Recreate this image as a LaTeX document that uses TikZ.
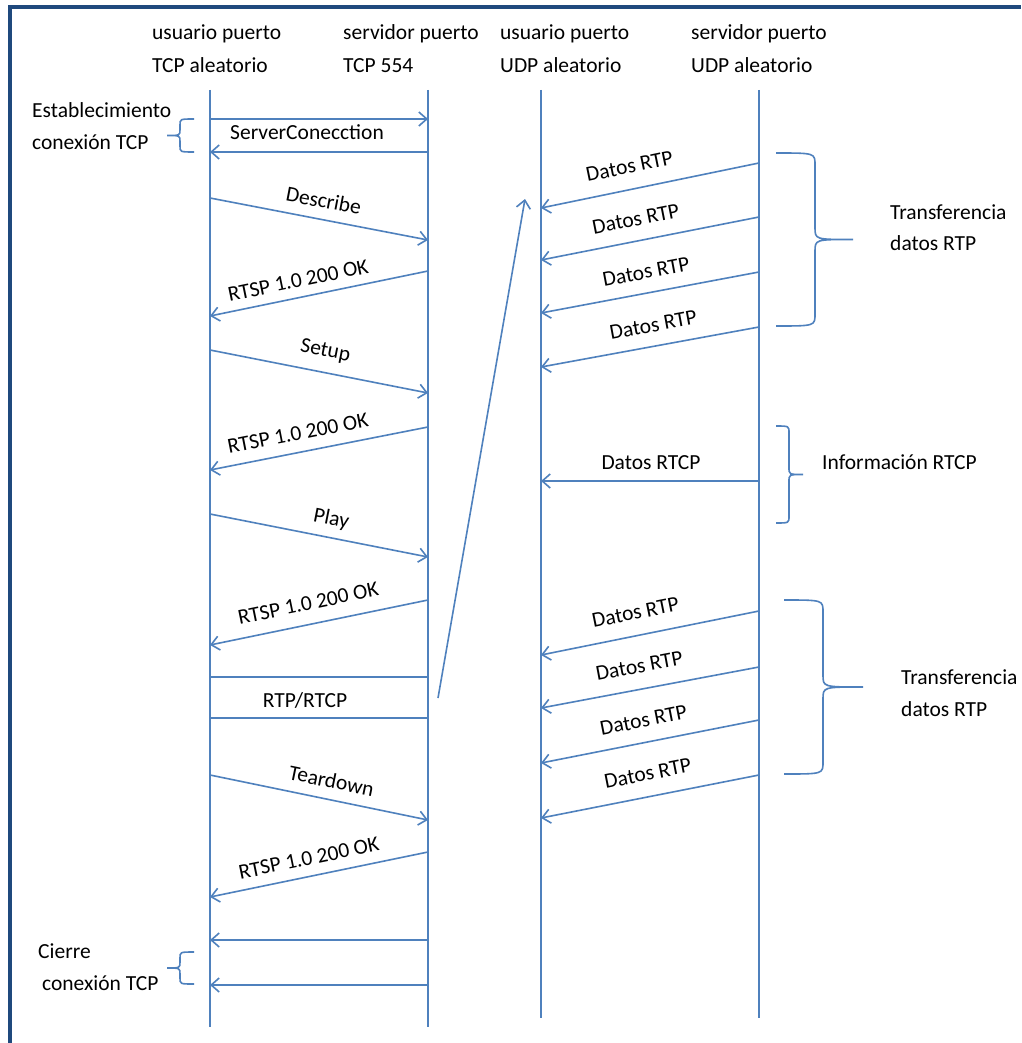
\documentclass[tikz,border=0pt]{standalone}
\usepackage{fontspec}
\setmainfont{Carlito}
\usetikzlibrary{arrows.meta}
\definecolor{lineblue}{RGB}{79,129,189}
\definecolor{frameblue}{RGB}{31,73,125}
\newcommand{\drawbrace}[6]{%
  \pgfmathsetmacro{\bym}{(#4+#5)/2}%
  \draw[bracestyle] (#1,#4) .. controls (#2,#4) .. (#2,#4+#6) -- (#2,\bym-#6)
    .. controls (#2,\bym) .. (#3,\bym) .. controls (#2,\bym) .. (#2,\bym+#6)
    -- (#2,#5-#6) .. controls (#2,#5) .. (#1,#5);
}
\begin{document}
\begin{tikzpicture}[x=1pt,y=-1pt,
  txt/.style={inner sep=0pt, font=\fontsize{21.5}{26}\selectfont, text=black},
  life/.style={draw=lineblue, line width=1.8pt},
  msgR/.style={draw=lineblue, line width=1.6pt, -{Straight Barb[length=8pt,width=14pt]}},
  msgL/.style={draw=lineblue, line width=1.6pt, {Straight Barb[length=8pt,width=14pt]}-},
  plain/.style={draw=lineblue, line width=1.6pt},
  mlab/.style={txt, sloped, anchor=center},
  bracestyle/.style={draw=lineblue, line width=1.6pt}
]
\useasboundingbox (0,0) rectangle (1021,1043);
\fill[white] (0,0) rectangle (1021,1043);
% frame
\coordinate (fa) at (10,1043);
\coordinate (fb) at (10,7);
\coordinate (fc) at (1021,7);
\draw[frameblue, line width=4pt] (fa) -- (fb) -- (fc);

% headers
\node[txt, anchor=base west] (h1a) at (152,40) {usuario puerto};
\node[txt, anchor=base west] (h1b) at (152,73) {TCP aleatorio};
\node[txt, anchor=base west] (h2a) at (343,40) {servidor puerto};
\node[txt, anchor=base west] (h2b) at (343,73) {TCP 554};
\node[txt, anchor=base west] (h3a) at (500,40) {usuario puerto};
\node[txt, anchor=base west] (h3b) at (500,73) {UDP aleatorio};
\node[txt, anchor=base west] (h4a) at (691,40) {servidor puerto};
\node[txt, anchor=base west] (h4b) at (691,73) {UDP aleatorio};

% lifelines
\coordinate (L1t) at (210,90);  \coordinate (L1b) at (210,1027);
\coordinate (L2t) at (428,90);  \coordinate (L2b) at (428,1027);
\coordinate (L3t) at (541,90);  \coordinate (L3b) at (541,1018);
\coordinate (L4t) at (759,90);  \coordinate (L4b) at (759,1018);
\draw[life] (L1t) -- (L1b);
\draw[life] (L2t) -- (L2b);
\draw[life] (L3t) -- (L3b);
\draw[life] (L4t) -- (L4b);

% TCP side messages
\path (210,119) coordinate (a1) (428,119) coordinate (b1)
      (210,152) coordinate (a2) (428,152) coordinate (b2)
      (210,198) coordinate (a3) (428,240) coordinate (b3)
      (210,316) coordinate (a4) (428,271) coordinate (b4)
      (210,350) coordinate (a5) (428,393) coordinate (b5)
      (210,470) coordinate (a6) (428,427) coordinate (b6)
      (210,514) coordinate (a7) (428,557) coordinate (b7)
      (210,645) coordinate (a8) (428,600) coordinate (b8)
      (210,677) coordinate (a9) (428,677) coordinate (b9)
      (210,718) coordinate (a10) (428,718) coordinate (b10)
      (210,775) coordinate (a11) (428,820) coordinate (b11)
      (210,897) coordinate (a12) (428,852) coordinate (b12)
      (210,940) coordinate (a13) (428,940) coordinate (b13)
      (210,985) coordinate (a14) (428,985) coordinate (b14);

\draw[msgR] (a1) -- (b1);
\draw[msgL] (a2) -- (b2);
\node[txt, anchor=base] (sc) at (307,140) {ServerConecction};
\draw[msgR] (a3) -- node[mlab, pos=.505, yshift=19pt] (t3) {Describe} (b3);
\draw[msgL] (a4) -- node[mlab, pos=.42, yshift=17pt] (t4) {RTSP 1.0 200 OK} (b4);
\draw[msgR] (a5) -- node[mlab, pos=.51, yshift=21pt] (t5) {Setup} (b5);
\draw[msgL] (a6) -- node[mlab, pos=.42, yshift=19pt] (t6) {RTSP 1.0 200 OK} (b6);
\draw[msgR] (a7) -- node[mlab, pos=.54, yshift=18pt] (t7) {Play} (b7);
\draw[msgL] (a8) -- node[mlab, pos=.47, yshift=21pt] (t8) {RTSP 1.0 200 OK} (b8);
\draw[plain] (a9) -- (b9);
\draw[plain] (a10) -- (b10);
\node[txt, anchor=base] (rr) at (305,707) {RTP/RTCP};
\draw[msgR] (a11) -- node[mlab, pos=.54, yshift=19pt] (t11) {Teardown} (b11);
\draw[msgL] (a12) -- node[mlab, pos=.47, yshift=18pt] (t12) {RTSP 1.0 200 OK} (b12);
\draw[msgL] (a13) -- (b13);
\draw[msgL] (a14) -- (b14);

% diagonal link
\coordinate (d1) at (438,698);
\coordinate (d2) at (525,199);
\draw[msgR] (d1) -- (d2);

% UDP side messages
\path (541,208) coordinate (c1) (759,163) coordinate (e1)
      (541,260) coordinate (c2) (759,217) coordinate (e2)
      (541,313) coordinate (c3) (759,272) coordinate (e3)
      (541,367) coordinate (c4) (759,327) coordinate (e4)
      (541,481) coordinate (c5) (759,481) coordinate (e5)
      (541,655) coordinate (c6) (759,611) coordinate (e6)
      (541,708) coordinate (c7) (759,667) coordinate (e7)
      (541,763) coordinate (c8) (759,720) coordinate (e8)
      (541,818) coordinate (c9) (759,775) coordinate (e9);
\draw[msgL] (c1) -- node[mlab, pos=.427, yshift=23pt] (u1) {Datos RTP} (e1);
\draw[msgL] (c2) -- node[mlab, pos=.454, yshift=22pt] (u2) {Datos RTP} (e2);
\draw[msgL] (c3) -- node[mlab, pos=.50, yshift=21pt] (u3) {Datos RTP} (e3);
\draw[msgL] (c4) -- node[mlab, pos=.532, yshift=21pt] (u4) {Datos RTP} (e4);
\draw[msgL] (c5) -- (e5);
\node[txt, anchor=base] (u5) at (651,469) {Datos RTCP};
\draw[msgL] (c6) -- node[mlab, pos=.454, yshift=23pt] (u6) {Datos RTP} (e6);
\draw[msgL] (c7) -- node[mlab, pos=.47, yshift=23pt] (u7) {Datos RTP} (e7);
\draw[msgL] (c8) -- node[mlab, pos=.49, yshift=22pt] (u8) {Datos RTP} (e8);
\draw[msgL] (c9) -- node[mlab, pos=.51, yshift=23pt] (u9) {Datos RTP} (e9);

% braces
\drawbrace{194}{180}{167}{119}{152}{6}
\drawbrace{194}{180}{167}{952}{984}{6}
\drawbrace{776}{815}{853}{153}{326}{12}
\drawbrace{776}{789}{803}{426}{523}{7}
\drawbrace{784}{823}{863}{600}{774}{12}

% side texts
\node[txt, anchor=base west] (s1) at (32,118) {Establecimiento};
\node[txt, anchor=base west] (s2) at (32,150) {conexión TCP};
\node[txt, anchor=base west] (s3) at (38,958) {Cierre};
\node[txt, anchor=base west] (s4) at (42,990) {conexión TCP};
\node[txt, anchor=base west] (r1) at (890,219) {Transferencia};
\node[txt, anchor=base west] (r2) at (890,250) {datos RTP};
\node[txt, anchor=base west] (r3) at (822,469) {Información RTCP};
\node[txt, anchor=base west] (r4) at (901,684) {Transferencia};
\node[txt, anchor=base west] (r5) at (901,716) {datos RTP};
\end{tikzpicture}
\end{document}
